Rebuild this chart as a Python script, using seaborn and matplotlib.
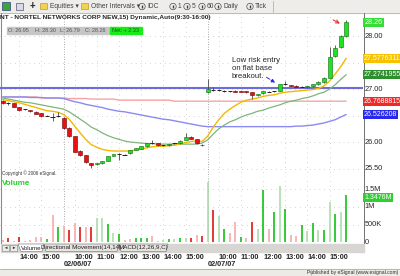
import matplotlib
matplotlib.use("Agg")
import matplotlib.pyplot as plt
from matplotlib.patches import Rectangle, Circle, Polygon
from matplotlib.transforms import blended_transform_factory, offset_copy
import numpy as np
import pandas as pd
import seaborn as sns

sns.set_theme(style="white")
plt.rcParams['font.family'] = ['Liberation Sans', 'DejaVu Sans']

# ---------------- data ----------------
sessions = [("2007-02-05", "13:15"), ("2007-02-06", "09:30"), ("2007-02-07", "09:30")]
bar_times = pd.DatetimeIndex(np.concatenate(
    [pd.date_range(f"{d} {t}", f"{d} 15:45", freq="15min").values for d, t in sessions]))

opens = [26.77, 26.73, 26.73, 26.66, 26.62, 26.60, 26.57, 26.54, 26.50, 26.48,
         26.49, 26.46, 26.27, 26.11, 25.83, 25.75, 25.60, 25.58, 25.60, 25.65,
         25.74, 25.775, 25.76, 25.79, 25.85, 25.87, 25.92, 25.975, 25.985, 25.94,
         25.94, 25.975, 25.975, 26.04, 26.10, 26.05, 25.95, 26.95, 26.98, 26.98,
         26.97, 26.96, 26.97, 26.96, 26.955, 26.94, 26.88, 26.92, 26.95, 26.96,
         26.97, 27.09, 27.075, 27.065, 27.045, 27.03, 27.05, 27.09, 27.13, 27.21,
         27.62, 27.79, 28.00]
highs = [26.79, 26.75, 26.74, 26.67, 26.63, 26.61, 26.58, 26.55, 26.51, 26.54,
         26.57, 26.47, 26.28, 26.12, 25.84, 25.76, 25.61, 25.61, 25.65, 25.74,
         25.78, 25.79, 25.77, 25.84, 25.89, 25.93, 25.98, 26.04, 25.99, 25.95,
         25.97, 25.98, 26.03, 26.17, 26.11, 26.06, 25.97, 27.19, 27.04, 27.00,
         26.99, 26.97, 26.98, 26.97, 26.96, 26.95, 26.91, 26.97, 26.97, 26.97,
         27.10, 27.15, 27.08, 27.07, 27.06, 27.06, 27.10, 27.15, 27.22, 27.79,
         27.83, 28.01, 28.30]
lows = [26.72, 26.70, 26.66, 26.59, 26.61, 26.57, 26.52, 26.48, 26.49, 26.40,
        26.47, 26.25, 26.10, 25.81, 25.74, 25.61, 25.51, 25.56, 25.59, 25.64,
        25.73, 25.66, 25.75, 25.78, 25.84, 25.86, 25.91, 25.96, 25.93, 25.93,
        25.93, 25.96, 25.97, 26.03, 26.05, 25.97, 25.92, 26.93, 26.96, 26.96,
        26.95, 26.95, 26.94, 26.94, 26.93, 26.82, 26.87, 26.91, 26.94, 26.95,
        26.96, 27.07, 27.05, 27.03, 27.03, 27.02, 27.04, 27.08, 27.12, 27.20,
        27.60, 27.77, 27.99]
closes = [26.73, 26.73, 26.67, 26.60, 26.62, 26.58, 26.53, 26.49, 26.50, 26.48,
          26.49, 26.27, 26.11, 25.82, 25.755, 25.62, 25.57, 25.60, 25.64, 25.74,
          25.775, 25.775, 25.76, 25.84, 25.89, 25.925, 25.975, 25.975, 25.94, 25.94,
          25.96, 25.975, 26.025, 26.10, 26.06, 25.975, 25.94, 27.00, 26.98, 26.98,
          26.97, 26.96, 26.95, 26.95, 26.94, 26.89, 26.905, 26.96, 26.95, 26.96,
          27.09, 27.09, 27.055, 27.04, 27.045, 27.055, 27.09, 27.14, 27.21, 27.60,
          27.77, 28.00, 28.26]

ma_fast = [26.80, 26.78, 26.76, 26.74, 26.71, 26.68, 26.65, 26.62, 26.59, 26.58,
           26.56, 26.52, 26.43, 26.30, 26.17, 26.05, 25.95, 25.90, 25.86, 25.84,
           25.83, 25.83, 25.83, 25.83, 25.85, 25.87, 25.89, 25.91, 25.92, 25.92,
           25.93, 25.94, 25.96, 25.99, 26.01, 26.02, 26.01, 26.11, 26.28, 26.42,
           26.54, 26.62, 26.69, 26.75, 26.79, 26.81, 26.83, 26.86, 26.88, 26.89,
           26.92, 26.94, 26.95, 26.96, 26.97, 26.98, 26.99, 27.01, 27.06, 27.15,
           27.28, 27.42, 27.58]
ma_mid = [26.83, 26.81, 26.79, 26.77, 26.75, 26.74, 26.72, 26.70, 26.68, 26.66,
          26.64, 26.62, 26.57, 26.50, 26.43, 26.36, 26.28, 26.23, 26.17, 26.12,
          26.08, 26.05, 26.02, 26.00, 25.99, 25.98, 25.97, 25.97, 25.96, 25.96,
          25.96, 25.96, 25.96, 25.96, 25.96, 25.96, 25.98, 26.04, 26.15, 26.25,
          26.32, 26.38, 26.42, 26.47, 26.51, 26.54, 26.58, 26.60, 26.64, 26.67,
          26.70, 26.74, 26.77, 26.79, 26.82, 26.84, 26.87, 26.91, 26.94, 27.00,
          27.08, 27.18, 27.27]
ma_slow = [26.85, 26.85, 26.85, 26.85, 26.85, 26.84, 26.84, 26.84, 26.83, 26.83,
           26.83, 26.82, 26.79, 26.76, 26.74, 26.71, 26.69, 26.67, 26.65, 26.62,
           26.60, 26.58, 26.57, 26.55, 26.53, 26.51, 26.49, 26.47, 26.45, 26.43,
           26.42, 26.40, 26.38, 26.36, 26.34, 26.32, 26.30, 26.29, 26.29, 26.29,
           26.29, 26.29, 26.29, 26.29, 26.29, 26.29, 26.29, 26.29, 26.29, 26.29,
           26.29, 26.29, 26.29, 26.30, 26.30, 26.31, 26.32, 26.34, 26.36, 26.39,
           26.42, 26.47, 26.52]
ma_long = [26.85, 26.85, 26.85, 26.85, 26.85, 26.85, 26.85, 26.83, 26.83, 26.83,
           26.83, 26.83, 26.82, 26.82, 26.82, 26.82, 26.81, 26.81, 26.81, 26.81,
           26.81, 26.79, 26.79, 26.79, 26.79, 26.79, 26.79, 26.79, 26.79, 26.79,
           26.79, 26.77, 26.77, 26.77, 26.77, 26.77, 26.77, 26.77, 26.77, 26.77,
           26.77, 26.77, 26.77, 26.77, 26.77, 26.77, 26.77, 26.77, 26.77, 26.77,
           26.77, 26.77, 26.77, 26.77, 26.77, 26.77, 26.77, 26.77, 26.77, 26.77,
           26.77, 26.77, 26.77]
level_line = 27.025

volume_m = [0.07, 0.11, 0.03, 0.13, 0.04, 0.07, 0.13, 0.14, 0.09, 0.77,
            0.44, 0.47, 0.33, 0.55, 0.44, 0.44, 0.44, 0.69, 0.69, 0.52,
            0.26, 0.23, 0.06, 0.08, 0.11, 0.12, 0.12, 0.17, 0.04, 0.06,
            0.09, 0.09, 0.11, 0.12, 0.12, 0.20, 0.17, 1.72, 0.91, 0.74,
            0.37, 0.27, 0.56, 0.15, 0.12, 0.58, 0.36, 1.49, 0.36, 0.87,
            1.61, 0.94, 0.20, 0.17, 0.49, 0.32, 0.53, 0.34, 0.35, 1.15,
            0.79, 0.87, 1.3476]
volume_shade = list("rRrRgrrrGr" "GrRrRrRggG" "gGrrGGGrgg" "GgGgRrRgRg"
                    "GrrGrRgGrG" "gGrrGgGgGg" "GgG")

price_grid = [28.0, 27.5, 27.0, 26.5, 26.0, 25.5]
price_ticks = [28.0, 27.0, 26.0, 25.5]
price_tick_labels = ["28.00", "27.00", "26.00", "25.50"]
vol_ticks = [0.0, 0.5, 1.0, 1.5]
vol_tick_labels = ["0", "500K", "1M", "1.5M"]
ma_labels = ["27.5776311", "27.2741955", "26.7688815", "26.526208"]
last_close_label = "28.26"
last_vol_label = "1.3476M"
title = "NT - NORTEL NETWORKS CORP NEW,15) Dynamic,Auto(9:30-16:00)"
ohlc_text = ["O: 26.95", "H: 28.30", "L: 26.79", "C: 28.26"]
net_text = "Net: + 2.33"
note_text = "Low risk entry\non flat base\nbreakout."

# ---------------- figure ----------------
W, H = 400, 276
fig = plt.figure(figsize=(W / 100, H / 100), dpi=100)
fig.patch.set_facecolor("white")


def rect(x0, y0, x1, y1):
    return [x0 / W, 1 - y1 / H, (x1 - x0) / W, (y1 - y0) / H]


bg = fig.add_axes([0, 0, 1, 1], zorder=0)
bg.set_xlim(0, W)
bg.set_ylim(H, 0)
bg.axis("off")

ax = fig.add_axes(rect(0, 13, 363, 177), zorder=2)
vx = fig.add_axes(rect(0, 177, 363, 244), zorder=2)
spacing, first = 5.54, 2.7
xl = (-first / spacing, (363 - first) / spacing)
PY = (25.34, 28.434)
VY = (-0.057, 1.857)

n = len(closes)
x = np.arange(n)
o, h, l, c = map(np.array, (opens, highs, lows, closes))

hour_idx = [i for i, t in enumerate(bar_times) if t.minute == 0]
hour_lbl = [bar_times[i].strftime("%H:%M") for i in hour_idx]
day_idx = [i for i in range(1, n) if bar_times[i].date() != bar_times[i - 1].date()]
day_lbl = [bar_times[i].strftime("%m/%d/%y") for i in day_idx]

# grid
gkw = dict(color="#b8b8b8", lw=0.6, dashes=(0.8, 5), zorder=0)
for v in price_grid:
    ax.axhline(v, **gkw)
for v in vol_ticks[1:]:
    vx.axhline(v, **gkw)
for i in hour_idx:
    ax.axvline(i, **gkw)
    vx.axvline(i, **gkw)
for i in day_idx:
    ax.axvline(i, color="#909090", lw=0.6, dashes=(1, 2), zorder=0)
    vx.axvline(i, color="#909090", lw=0.6, dashes=(1, 2), zorder=0)

# level and moving averages
ax.axhline(level_line, color="#6c6cdc", lw=1.5, zorder=1)
df = pd.DataFrame({"bar": x, "fast": ma_fast, "mid": ma_mid,
                   "slow": ma_slow, "long": ma_long})
sns.lineplot(data=df, x="bar", y="long", ax=ax, color="#f4a4a4", lw=1.0, zorder=2)
sns.lineplot(data=df, x="bar", y="slow", ax=ax, color="#8a8af2", lw=1.0, zorder=2)
sns.lineplot(data=df, x="bar", y="mid", ax=ax, color="#7fb47f", lw=0.9, zorder=2)
sns.lineplot(data=df, x="bar", y="fast", ax=ax, color="#f5b800", lw=1.0, zorder=2)

# candles
ax.vlines(x, l, h, color="#4a4a4a", lw=0.6, zorder=3)
up, dn, dj = c > o, c < o, c == o
ax.bar(x[up], (c - o)[up], bottom=o[up], width=0.72, color="#22e022",
       edgecolor="#0b6b0b", lw=0.4, zorder=4)
ax.bar(x[dn], (o - c)[dn], bottom=c[dn], width=0.72, color="#e81010",
       edgecolor="#700000", lw=0.4, zorder=4)
ax.hlines(c[dj], x[dj] - 0.38, x[dj] + 0.38, color="#222222", lw=0.7, zorder=4)

# volume
shade_col = {"R": "#e00000", "r": "#f5a3a3", "G": "#00bb00", "g": "#a6daa6"}
vx.vlines(x, 0, volume_m, colors=[shade_col[s] for s in volume_shade], lw=1.1, zorder=3)

for a, yl in ((ax, PY), (vx, VY)):
    a.set_xlim(*xl)
    a.set_ylim(*yl)
    a.axis("off")

# right axis labels
trP = blended_transform_factory(ax.transAxes, ax.transData)
trV = blended_transform_factory(vx.transAxes, vx.transData)
for v, s in zip(price_ticks, price_tick_labels):
    ax.text(1.004, v, s, transform=trP, fontsize=5.3, va="center", ha="left", zorder=5)
for v, s in zip(vol_ticks, vol_tick_labels):
    vx.text(1.004, v, s, transform=trV, fontsize=5.3, va="center", ha="left", zorder=5)

box = dict(boxstyle="square,pad=0.15", ec="none")
ax.text(1.004, closes[-1], last_close_label, transform=trP, fontsize=5.2, va="center",
        ha="left", color="white", bbox=dict(box, fc="#35dd35"), zorder=6)
for val, s, col in zip([ma_fast[-1], ma_mid[-1], ma_long[-1], ma_slow[-1]], ma_labels,
                       ["#f7c200", "#2f8f2f", "#f02828", "#2828f0"]):
    ax.text(1.002, val, s, transform=trP, fontsize=5.0, va="center", ha="left",
            color="white", bbox=dict(box, fc=col), zorder=6)
trV_low = offset_copy(trV, fig=fig, x=0, y=-3, units="dots")
vx.text(1.004, volume_m[-1], last_vol_label, transform=trV_low, fontsize=5.0, va="center",
        ha="left", color="white", bbox=dict(box, fc="#2fcf2f"), zorder=6)

# time axis labels
trX = blended_transform_factory(vx.transData, vx.transAxes)
for i, s in zip(hour_idx, hour_lbl):
    vx.text(i, -0.20, s, transform=trX, fontsize=5.3, fontweight="bold", ha="left", va="center")
for i, s in zip(day_idx, day_lbl):
    vx.text(i, -0.31, s, transform=trX, fontsize=5.3, fontweight="bold", ha="left", va="center")

# annotations
ax.text(41.3, 27.61, note_text, fontsize=5.6, ha="left", va="top", linespacing=1.25, zorder=6)
ax.annotate("", xy=(49.6, 27.09), xytext=(47.2, 27.25),
            arrowprops=dict(arrowstyle="-|>", color="#2a2ae8", lw=0.7, ls="--",
                            mutation_scale=5), zorder=6)
ax.annotate("", xy=(61.3, 28.21), xytext=(59.2, 28.33),
            arrowprops=dict(arrowstyle="->", color="#ee2020", lw=0.7, mutation_scale=6),
            zorder=6)

# ---------------- chrome ----------------
bg.add_patch(Rectangle((0, 0), W, 12.5, color="#eeede9", zorder=1))
bg.plot([0, W], [12.5, 12.5], color="#a8a8a8", lw=0.5, zorder=2)
bg.plot([272.5, 272.5], [1, 11.5], color="#a8a8a8", lw=0.5, zorder=2)
bg.add_patch(Rectangle((1.5, 2), 8, 8, fc="#3aa53a", ec="#304080", lw=0.5, zorder=2))
bg.add_patch(Rectangle((16, 2.5), 7, 7, fc="#d9d9e8", ec="#555577", lw=0.5, zorder=2))
bg.text(32, 6.3, "+", fontsize=7, fontweight="bold", ha="center", va="center", zorder=3)
for fx in (40, 81):
    bg.add_patch(Rectangle((fx, 3), 7, 6, fc="#f3d250", ec="#b08a1a", lw=0.4, zorder=2))
tb = dict(fontsize=4.8, color="#404040", va="center", zorder=3)
bg.text(50, 6.5, "Equities \u25be", **tb)
bg.text(91, 6.5, "Other Intervals \u25be", **tb)
for cx, lab, t in [(142, "S", "IDC"), (173, "I", "1"), (187, "I", "5"),
                   (202, "I", "60"), (218, "I", "Daily"), (250, "I", "Tick")]:
    bg.add_patch(Circle((cx, 6.5), 3.2, fc="none", ec="#505050", lw=0.5, zorder=2))
    bg.add_patch(Rectangle((cx - 0.3, 4.8), 0.6, 3.4, color="#404040", zorder=3))
    bg.text(cx + 5, 6.5, t, **tb)

bg.plot([0.5, 0.5], [13, 244], color="#8a8a8a", lw=0.8, zorder=2)
bg.plot([363.5, 363.5], [13, 252], color="#707070", lw=0.7, zorder=2)
bg.text(0, 17.5, title, fontsize=4.65, fontweight="bold", ha="left", va="center", zorder=3)
bg.add_patch(Rectangle((6.5, 26.8), 103.5, 7.2, color="#c6c6c6", zorder=2))
bg.add_patch(Rectangle((110, 26.8), 31.5, 7.2, color="#18ec18", zorder=2))
for tx, s in zip([8, 35, 60, 85], ohlc_text):
    bg.text(tx, 30.5, s, fontsize=4.0, color="#555555", va="center", zorder=3)
bg.text(112, 30.5, net_text, fontsize=4.0, color="#1a5a1a", va="center", zorder=3)
bg.text(2, 173.5, "Copyright \u00a9 2006 eSignal.", fontsize=3.3, color="#333333",
        va="center", zorder=3)
bg.text(2, 183.5, "Volume", fontsize=5.8, fontweight="bold", color="#2ccc2c",
        va="center", zorder=3)

# tab bar
bg.add_patch(Rectangle((0.5, 244), 363, 8, color="#d8d6d2", zorder=3))
for bx, sym in [(2, "\u25c4"), (10, "\u25ba")]:
    bg.add_patch(Rectangle((bx, 245), 7, 6, fc="#ecebe8", ec="#808080", lw=0.4, zorder=4))
    bg.text(bx + 3.5, 248.2, sym, fontsize=3.2, ha="center", va="center", zorder=5)
bg.add_patch(Polygon([(18, 244), (44, 244), (42, 251.5), (21, 251.5)],
                     fc="white", ec="#707070", lw=0.4, zorder=4))
bg.add_patch(Polygon([(44, 244), (119, 244), (117, 251.5), (46, 251.5)],
                     fc="#e6e4e0", ec="#707070", lw=0.4, zorder=4))
bg.add_patch(Polygon([(119, 244), (168, 244), (166, 251.5), (121, 251.5)],
                     fc="#e6e4e0", ec="#707070", lw=0.4, zorder=4))
tt = dict(fontsize=4.5, va="center", ha="center", zorder=5, color="#202020")
bg.text(31, 248, "Volume", **tt)
bg.text(81.5, 248, "Directional Movement(14,14)", **tt)
bg.text(143.5, 248, "MACD(12,26,9,C)", **tt)

# status bar
bg.add_patch(Rectangle((0, 268.5), W, 7.5, color="#ecebe6", zorder=3))
bg.plot([0, W], [268.5, 268.5], color="#a0a0a0", lw=0.5, zorder=4)
bg.plot([311, 311], [269, 275.5], color="#a0a0a0", lw=0.4, zorder=4)
bg.text(398, 272.3, "Published by eSignal (www.esignal.com)", fontsize=3.6,
        color="#303030", ha="right", va="center", zorder=5)

fig.savefig("out.png", dpi=100)
